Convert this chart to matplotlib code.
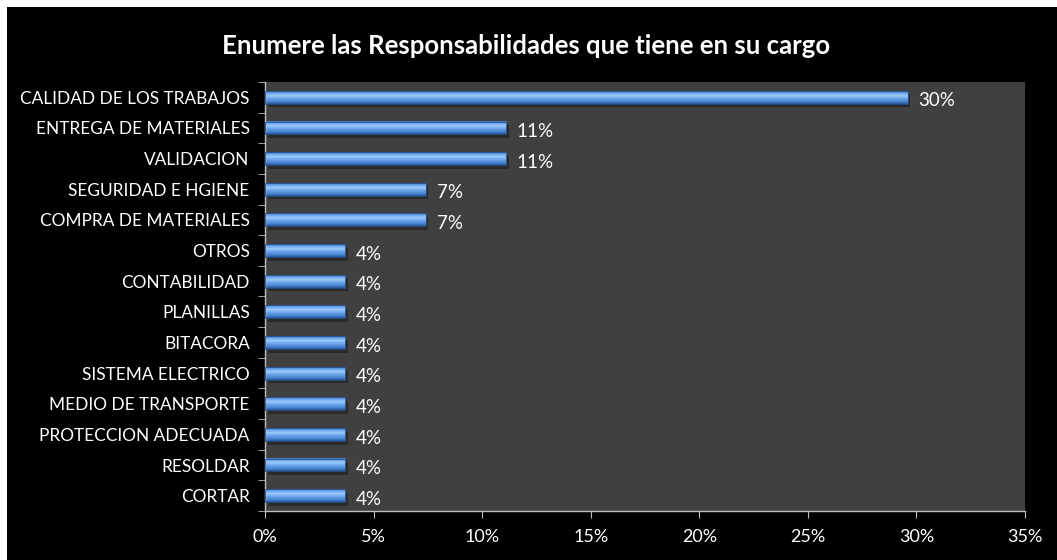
import numpy as np
import matplotlib.pyplot as plt
from matplotlib.colors import LinearSegmentedColormap
from matplotlib.patches import Rectangle
from matplotlib.ticker import FuncFormatter, MultipleLocator, FixedLocator

# responsabilidades (de arriba hacia abajo) y porcentaje de respuestas
categorias = ['CALIDAD DE LOS TRABAJOS', 'ENTREGA DE MATERIALES', 'VALIDACION',
              'SEGURIDAD E HGIENE', 'COMPRA DE MATERIALES', 'OTROS', 'CONTABILIDAD',
              'PLANILLAS', 'BITACORA', 'SISTEMA ELECTRICO', 'MEDIO DE TRANSPORTE',
              'PROTECCION ADECUADA', 'RESOLDAR', 'CORTAR']
porcentajes = [29.6, 11.1, 11.1, 7.4, 7.4, 3.7, 3.7, 3.7, 3.7, 3.7, 3.7, 3.7, 3.7, 3.7]

plt.rcParams['font.family'] = ['Lato', 'DejaVu Sans']

fig = plt.figure(figsize=(10.57, 5.6), dpi=100, facecolor='black')
# borde blanco arriba e izquierda
fig.patches.append(Rectangle((0, 0), 7 / 1057, 1, transform=fig.transFigure,
                             facecolor='white', edgecolor='none', zorder=10))
fig.patches.append(Rectangle((0, 1 - 7 / 560), 1, 7 / 560, transform=fig.transFigure,
                             facecolor='white', edgecolor='none', zorder=10))

ax = fig.add_axes([0.2507, 0.0875, 0.7190, 0.7661])
ax.set_facecolor('#404040')

# degradado vertical de las barras (efecto cilindro)
grad = LinearSegmentedColormap.from_list('azul', [
    (0.0, '#3c70ba'), (0.15, '#6aa4ec'), (0.35, '#9ccbfa'),
    (0.55, '#6ea8ee'), (0.82, '#4a84d2'), (1.0, '#2a5694')])
g = np.linspace(0, 1, 64).reshape(-1, 1)

h = 0.42
for i, v in enumerate(porcentajes):
    # sombra
    ax.add_patch(Rectangle((0.12, i - h / 2 + 0.12), v, h, facecolor='#2a2a2a',
                           edgecolor='none', zorder=1))
    ax.imshow(g, cmap=grad, aspect='auto', extent=(0, v, i + h / 2, i - h / 2),
              zorder=2, interpolation='bilinear')
    ax.add_patch(Rectangle((0, i - h / 2), v, h, facecolor='none',
                           edgecolor='#24508c', linewidth=0.6, zorder=3))
    ax.text(v + 0.5, i + 0.12, f'{v:.0f}%', color='white', fontsize=13.5,
            va='center', ha='left')

ax.set_xlim(0, 35)
ax.set_ylim(len(categorias) - 0.5, -0.5)

ax.xaxis.set_major_locator(MultipleLocator(5))
ax.xaxis.set_major_formatter(FuncFormatter(lambda x, p: f'{x:.0f}%'))
ax.set_yticks(range(len(categorias)))
ax.set_yticklabels(categorias)
ax.yaxis.set_minor_locator(FixedLocator(np.arange(-0.5, len(categorias), 1)))

ax.tick_params(axis='x', colors='#bfbfbf', labelcolor='white', labelsize=13,
               length=5, direction='out', pad=8)
ax.tick_params(axis='y', which='major', length=0, labelcolor='white',
               labelsize=12.4, pad=11)
ax.tick_params(axis='y', which='minor', length=5, color='#bfbfbf', direction='out')

for lado in ['top', 'right']:
    ax.spines[lado].set_visible(False)
for lado in ['left', 'bottom']:
    ax.spines[lado].set_color('#bfbfbf')
    ax.spines[lado].set_linewidth(1)

fig.text(0.498, 0.918, 'Enumere las Responsabilidades que tiene en su cargo',
         color='white', fontsize=18.5, fontweight='bold', ha='center', va='center')

fig.savefig('out.png', dpi=100, facecolor='black')
